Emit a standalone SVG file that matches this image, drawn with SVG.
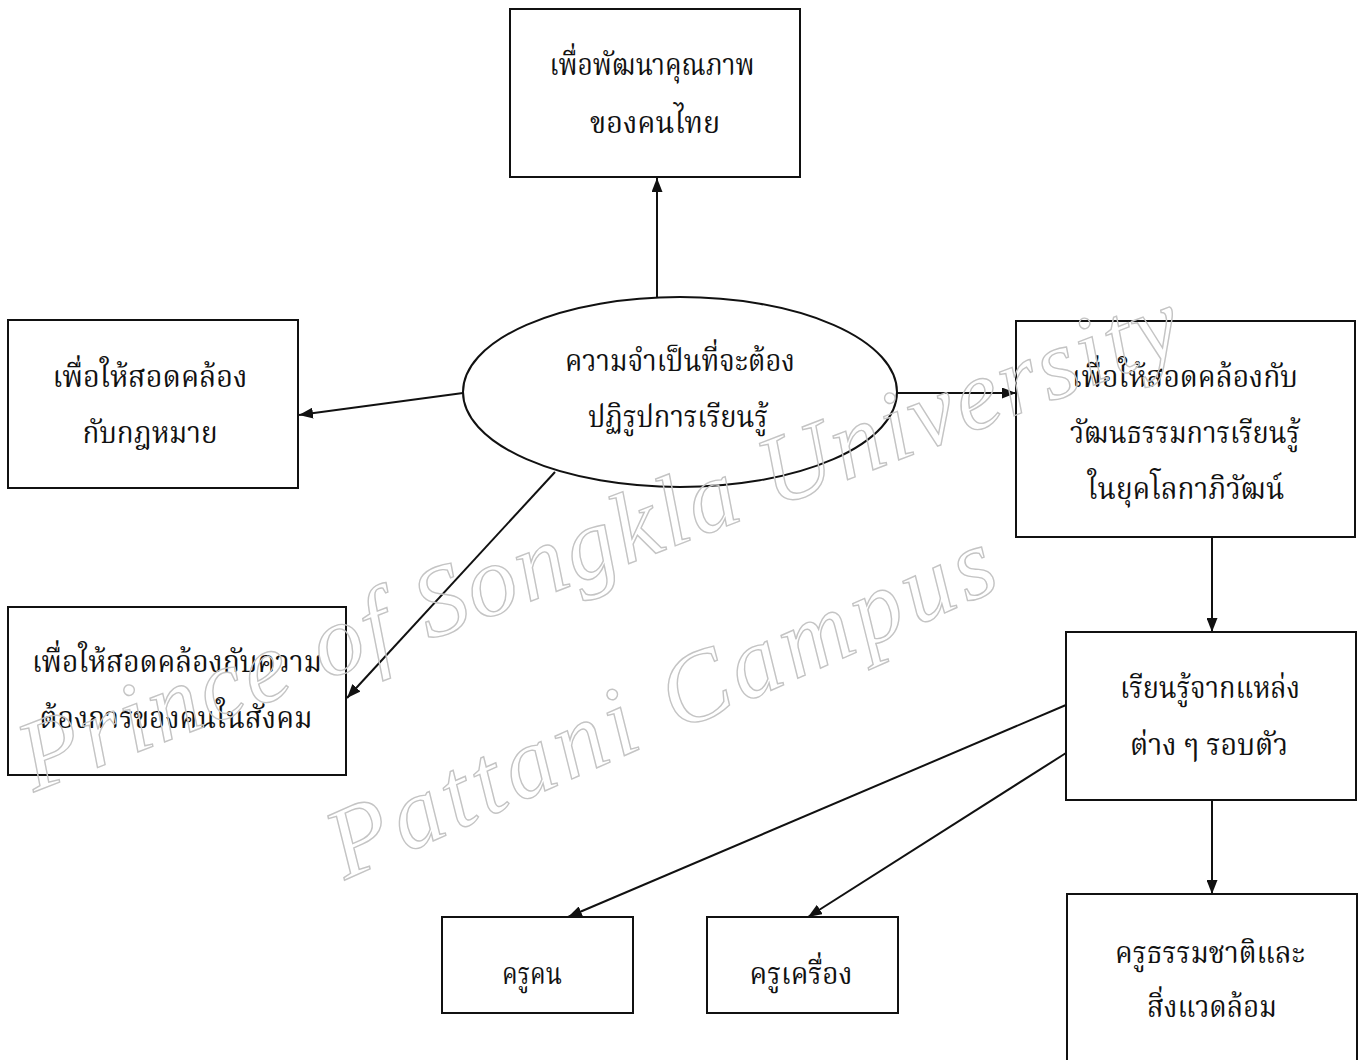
<svg xmlns="http://www.w3.org/2000/svg" width="1366" height="1060" viewBox="0 0 1366 1060">
<style>
.box{fill:#fff;stroke:#111;stroke-width:2}
.t{font-family:"Noto Serif Thai","Noto Sans Thai","Liberation Serif",serif;font-size:30px;fill:#111;text-anchor:middle}
.c{stroke:#111;stroke-width:2;fill:none}
.wm{font-family:"Liberation Serif",serif;font-style:italic;fill:none;stroke:#c4c4c4;stroke-width:1.4}
</style>
<defs>
<marker id="ah" viewBox="0 0 14 11" refX="14" refY="5.5" markerWidth="14" markerHeight="11" markerUnits="userSpaceOnUse" orient="auto">
<path d="M0,0 L14,5.5 L0,11 z" fill="#111"/>
</marker>
</defs>
<rect width="1366" height="1060" fill="#fff"/>
<g id="connectors">
<line class="c" x1="657" y1="297" x2="657" y2="178" marker-end="url(#ah)"/>
<line class="c" x1="463" y1="393" x2="299" y2="415" marker-end="url(#ah)"/>
<line class="c" x1="555" y1="472" x2="347" y2="698" marker-end="url(#ah)"/>
<line class="c" x1="897" y1="393" x2="1016" y2="393" marker-end="url(#ah)"/>
<line class="c" x1="1212" y1="537" x2="1212" y2="632" marker-end="url(#ah)"/>
<line class="c" x1="1212" y1="800" x2="1212" y2="894" marker-end="url(#ah)"/>
<line class="c" x1="1066" y1="705" x2="568" y2="917" marker-end="url(#ah)"/>
<line class="c" x1="1066" y1="753" x2="808" y2="917" marker-end="url(#ah)"/>
</g>
<g id="center">
<ellipse class="box" cx="680" cy="392" rx="217" ry="95"/>
<text class="t" x="680" y="371" textLength="230" lengthAdjust="spacingAndGlyphs">ความจำเป็นที่จะต้อง</text>
<text class="t" x="678" y="427" textLength="180" lengthAdjust="spacingAndGlyphs">ปฏิรูปการเรียนรู้</text>
</g>
<g id="n-quality">
<rect class="box" x="510" y="9" width="290" height="168"/>
<text class="t" x="652" y="75" textLength="205" lengthAdjust="spacingAndGlyphs">เพื่อพัฒนาคุณภาพ</text>
<text class="t" x="655" y="133" textLength="130" lengthAdjust="spacingAndGlyphs">ของคนไทย</text>
</g>
<g id="n-law">
<rect class="box" x="8" y="320" width="290" height="168"/>
<text class="t" x="150" y="387" textLength="195" lengthAdjust="spacingAndGlyphs">เพื่อให้สอดคล้อง</text>
<text class="t" x="150" y="443" textLength="135" lengthAdjust="spacingAndGlyphs">กับกฎหมาย</text>
</g>
<g id="n-society">
<rect class="box" x="8" y="607" width="338" height="168"/>
<text class="t" x="177" y="672" textLength="290" lengthAdjust="spacingAndGlyphs">เพื่อให้สอดคล้องกับความ</text>
<text class="t" x="176" y="728" textLength="273" lengthAdjust="spacingAndGlyphs">ต้องการของคนในสังคม</text>
</g>
<g id="n-culture">
<rect class="box" x="1016" y="321" width="339" height="216"/>
<text class="t" x="1185" y="387" textLength="226" lengthAdjust="spacingAndGlyphs">เพื่อให้สอดคล้องกับ</text>
<text class="t" x="1185" y="443" textLength="230" lengthAdjust="spacingAndGlyphs">วัฒนธรรมการเรียนรู้</text>
<text class="t" x="1186" y="499" textLength="197" lengthAdjust="spacingAndGlyphs">ในยุคโลกาภิวัฒน์</text>
</g>
<g id="n-sources">
<rect class="box" x="1066" y="632" width="290" height="168"/>
<text class="t" x="1210" y="698" textLength="180" lengthAdjust="spacingAndGlyphs">เรียนรู้จากแหล่ง</text>
<text class="t" x="1209" y="755" textLength="158" lengthAdjust="spacingAndGlyphs">ต่าง ๆ รอบตัว</text>
</g>
<g id="n-person">
<rect class="box" x="442" y="917" width="191" height="96"/>
<text class="t" x="532" y="984" textLength="60" lengthAdjust="spacingAndGlyphs">ครูคน</text>
</g>
<g id="n-machine">
<rect class="box" x="707" y="917" width="191" height="96"/>
<text class="t" x="801" y="984" textLength="103" lengthAdjust="spacingAndGlyphs">ครูเครื่อง</text>
</g>
<g id="n-nature">
<rect class="box" x="1067" y="894" width="290" height="180"/>
<text class="t" x="1210" y="963" textLength="190" lengthAdjust="spacingAndGlyphs">ครูธรรมชาติและ</text>
<text class="t" x="1212" y="1017" textLength="130" lengthAdjust="spacingAndGlyphs">สิ่งแวดล้อม</text>
</g>
<g id="watermark">
<text class="wm" font-size="100" transform="translate(34,792) rotate(-21)" textLength="1235" lengthAdjust="spacing">Prince of Songkla University</text>
<text class="wm" font-size="100" transform="translate(345,880) rotate(-24)" textLength="720" lengthAdjust="spacing">Pattani Campus</text>
</g>
</svg>
